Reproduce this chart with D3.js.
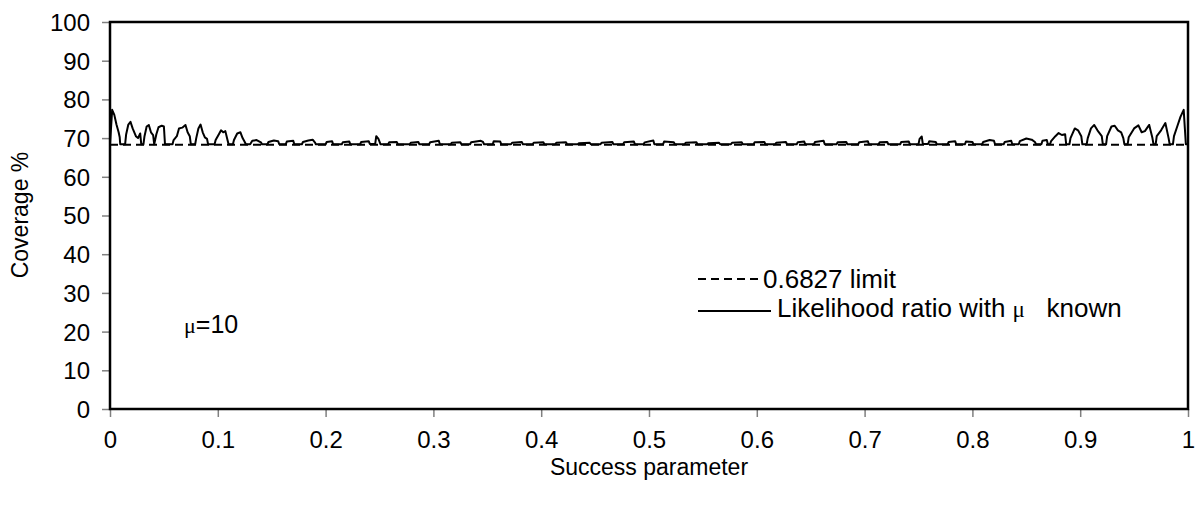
<!DOCTYPE html>
<html><head><meta charset="utf-8">
<script src="https://cdn.jsdelivr.net/npm/d3@7"></script>
<style>body{margin:0;background:#fff}svg{display:block}text{font-family:"Liberation Sans",Arial,sans-serif;fill:#000}</style>
</head><body>
<svg id="c" width="1195" height="507"></svg>
<script>
const xTicks = [0,0.1,0.2,0.3,0.4,0.5,0.6,0.7,0.8,0.9,1];
const xTickLabels = ["0","0.1","0.2","0.3","0.4","0.5","0.6","0.7","0.8","0.9","1"];
const yTicks = [0,10,20,30,40,50,60,70,80,90,100];
const limitValue = 68.27;
const successP = [
0.000,0.002,0.004,0.006,0.008,0.009,0.0095,0.014,0.015,0.017,0.019,0.021,0.024,0.026,0.028,0.029,0.031,0.032,0.034,0.036,0.038,0.040,0.041,0.043,0.045,0.048,0.050,0.051,0.058,0.059,0.062,0.064,0.067,0.070,0.072,0.074,0.075,0.079,0.080,0.082,0.084,0.086,0.088,0.090,0.091,0.097,0.098,0.101,0.103,0.105,0.107,0.109,0.110,0.114,0.115,0.118,0.121,0.123,0.125,0.126,
0.130,0.132,0.136,0.140,0.141,0.146,0.147,0.152,0.156,0.157,0.163,0.164,0.170,0.171,0.178,0.179,0.184,0.188,0.190,0.191,0.200,0.201,0.206,0.207,0.215,0.216,0.222,0.223,0.232,0.233,0.240,0.241,0.246,0.247,0.249,0.251,0.258,0.259,0.266,0.267,0.278,0.279,0.286,0.287,0.296,0.297,0.305,0.306,0.316,0.317,0.325,0.326,0.334,0.335,0.344,0.346,0.347,0.355,0.356,0.362,0.363,0.372,0.373,0.382,0.383,0.392,0.393,0.402,0.403,0.413,0.414,0.423,0.424,0.434,0.435,0.445,0.446,0.455,0.456,0.466,0.467,0.476,0.477,0.486,0.487,0.495,0.496,0.504,0.505,
0.513,0.514,0.523,0.524,0.533,0.534,0.544,0.545,0.554,0.555,0.565,0.566,0.576,0.577,0.586,0.587,0.597,0.598,0.607,0.608,0.617,0.618,0.627,0.628,0.637,0.638,0.644,0.645,0.653,0.654,0.662,0.663,0.674,0.675,0.683,0.684,0.694,0.695,0.703,0.704,0.713,0.714,0.721,0.722,0.733,0.734,0.741,0.742,0.750,0.751,0.753,0.754,0.759,0.760,0.766,0.767,0.777,0.778,0.784,0.785,0.793,0.794,0.800,0.801,0.809,0.810,0.816,0.820,0.821,0.829,0.830,0.836,0.837,0.843,0.844,0.850,0.855,0.858,0.859,0.864,0.865,0.869,0.870,
0.872,0.873,0.877,0.880,0.883,0.886,0.887,0.890,0.891,0.895,0.898,0.901,0.902,0.906,0.907,0.910,0.913,0.916,0.920,0.921,0.924,0.925,0.929,0.932,0.935,0.938,0.940,0.941,0.944,0.945,0.950,0.954,0.957,0.960,0.964,0.967,0.968,0.970,0.971,0.975,0.979,0.982,0.983,0.986,0.987,0.990,0.993,0.996,0.998,1.000
];
const coverage = [
68.3,77.3,76.0,73.5,71.5,70.2,68.4,68.4,71.0,73.5,74.2,72.5,70.5,70.0,71.2,68.4,68.4,70.5,73.0,73.4,71.5,70.8,68.4,71.0,72.8,73.2,73.0,68.4,68.4,69.5,70.5,72.5,72.7,73.4,71.5,70.5,68.4,68.4,70.0,72.5,73.5,71.5,70.2,69.8,68.4,68.4,69.5,71.0,72.0,71.5,71.8,69.5,68.4,68.4,69.5,71.2,71.5,70.0,69.0,68.4,
68.4,69.3,69.5,68.9,68.4,68.4,69.0,69.4,69.2,68.4,68.4,69.1,69.3,68.4,68.4,69.0,69.4,69.6,68.9,68.4,68.4,69.0,69.2,68.4,68.4,68.9,69.1,68.4,68.4,69.0,69.2,68.5,68.5,70.5,69.8,68.4,68.4,68.9,69.0,68.4,68.4,68.8,69.0,68.4,68.4,68.9,69.3,68.4,68.4,68.8,68.9,68.4,68.4,68.9,69.3,69.0,68.4,68.4,69.2,69.1,68.4,68.4,68.8,69.0,68.4,68.4,68.8,68.9,68.4,68.4,68.8,68.9,68.4,68.4,68.7,68.8,68.4,68.4,68.8,69.0,68.4,68.4,68.9,69.1,68.4,68.4,68.9,69.4,68.4,
68.4,69.1,68.9,68.4,68.4,68.8,68.9,68.4,68.4,68.7,68.8,68.4,68.4,68.8,68.9,68.4,68.4,68.9,69.0,68.4,68.4,68.8,69.0,68.4,68.4,68.9,69.1,68.4,68.4,69.0,69.3,68.4,68.4,68.9,69.0,68.4,68.4,68.9,69.2,68.4,68.4,68.9,69.0,68.4,68.4,69.0,69.1,68.4,68.4,69.8,70.4,68.5,68.5,69.2,69.0,68.4,68.4,69.0,69.2,68.4,68.4,69.1,69.0,68.4,68.4,69.0,69.5,69.3,68.4,68.4,69.0,69.3,68.4,68.4,69.2,69.9,69.6,69.0,68.4,68.4,69.3,69.5,68.4,
68.4,69.2,70.5,71.3,70.8,71.0,68.4,68.4,70.0,72.5,72.0,70.5,68.4,68.4,70.0,72.5,73.4,72.0,70.5,68.4,68.4,70.5,73.0,73.2,72.0,71.5,70.0,68.4,68.4,70.2,72.5,73.3,71.5,71.8,73.4,70.0,68.4,68.4,70.5,72.0,73.9,70.0,68.4,68.4,70.5,73.0,75.5,77.3,68.4,68.4
];
const xLabel = "Success parameter";
const yLabel = "Coverage %";
const legendLabels = ["0.6827 limit", "Likelihood ratio with ", "μ", "   known"];

const svg = d3.select("#c");
const L = 110, R = 1188, T = 22, B = 409;
const x = d3.scaleLinear().domain([0,1]).range([L,R]);
const y = d3.scaleLinear().domain([0,100]).range([B,T]);
const FS = 24;

// y axis ticks
const ya = svg.append("g").attr("transform",`translate(${L},0)`)
  .call(d3.axisLeft(y).tickValues(yTicks).tickSize(8).tickPadding(12));
ya.select(".domain").remove();
ya.selectAll("line").attr("stroke","#808080").attr("stroke-width",1.5);
ya.selectAll("text").attr("font-size",FS).attr("font-family","Liberation Sans, Arial").attr("fill","#000").attr("dy","0.35em");

// x axis ticks
const xa = svg.append("g").attr("transform",`translate(0,${B})`)
  .call(d3.axisBottom(x).tickValues(xTicks).tickFormat((d,i)=>xTickLabels[i]).tickSize(8).tickPadding(14));
xa.select(".domain").remove();
xa.selectAll("line").attr("stroke","#808080").attr("stroke-width",1.5);
xa.selectAll("text").attr("font-size",FS).attr("font-family","Liberation Sans, Arial").attr("fill","#000");

// limit dashed line
svg.append("line").attr("x1",x(0)).attr("x2",x(1)).attr("y1",y(limitValue)).attr("y2",y(limitValue))
  .attr("stroke","#000").attr("stroke-width",2).attr("stroke-dasharray","8,5");

// coverage line
const pts = successP.map((p,i)=>[p,coverage[i]]);
svg.append("path").datum(pts)
  .attr("d", d3.line().x(d=>x(d[0])).y(d=>y(d[1])))
  .attr("fill","none").attr("stroke","#000").attr("stroke-width",2).attr("stroke-linejoin","round");

// frame
svg.append("rect").attr("x",L).attr("y",T).attr("width",R-L).attr("height",B-T)
  .attr("fill","none").attr("stroke","#000").attr("stroke-width",2.5);

// axis titles
svg.append("text").attr("x",(L+R)/2).attr("y",475).attr("text-anchor","middle").attr("font-size",23).text(xLabel);
svg.append("text").attr("transform","translate(28,215) rotate(-90)").attr("text-anchor","middle").attr("font-size",23).text(yLabel);

// legend
const LF = 26;
svg.append("line").attr("x1",698).attr("x2",760).attr("y1",279).attr("y2",279)
  .attr("stroke","#000").attr("stroke-width",2).attr("stroke-dasharray","8,5");
svg.append("text").attr("x",763).attr("y",288).attr("font-size",LF).text(legendLabels[0]);
svg.append("line").attr("x1",698).attr("x2",771).attr("y1",311).attr("y2",311)
  .attr("stroke","#000").attr("stroke-width",2);
const t2 = svg.append("text").attr("x",777).attr("y",317).attr("font-size",LF).attr("xml:space","preserve");
t2.append("tspan").text(legendLabels[1]);
t2.append("tspan").attr("font-family","Liberation Serif, serif").attr("font-size",LF-3).text(legendLabels[2]);
t2.append("tspan").text(legendLabels[3]);

// annotation
const t3 = svg.append("text").attr("x",184).attr("y",333).attr("font-size",25);
t3.append("tspan").attr("font-family","Liberation Serif, serif").attr("font-size",22).text("μ");
t3.append("tspan").text("=10");
</script>
</body></html>
